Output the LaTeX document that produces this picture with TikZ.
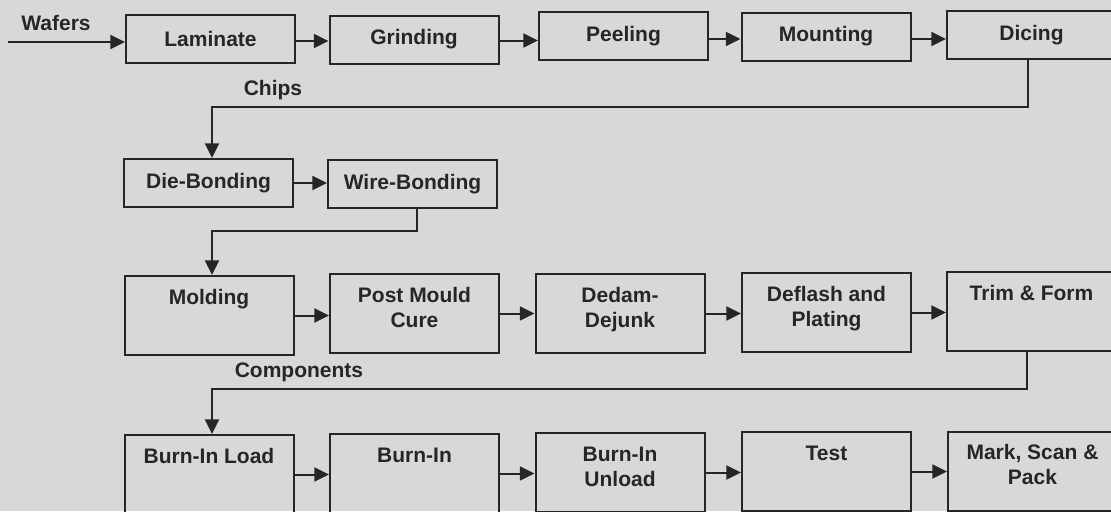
\documentclass[tikz,border=0pt]{standalone}
\usepackage{fontspec}
\setmainfont{Liberation Sans}
\usetikzlibrary{arrows.meta,calc}
\definecolor{bg}{RGB}{216,216,214}
\definecolor{ink}{RGB}{38,38,38}
\newcommand\tstrut{\rule{0pt}{11.6pt}}
\begin{document}
\begin{tikzpicture}[x=0.75pt,y=-0.75pt,
  txt/.style={font=\bfseries\fontsize{15.75}{18.75}\selectfont, text=ink, align=center, inner sep=0pt},
  box/.style={txt, draw=ink, line width=1.5pt, rectangle, minimum width=126.75pt},
  low/.style={box, minimum height=36pt},
  tall/.style={box, minimum height=59.25pt},
  toptxt/.style={txt, anchor=north},
  flow/.style={draw=ink, line width=1.5pt, -{Triangle[length=11pt,width=10.5pt]}},
  wire/.style={draw=ink, line width=1.5pt}]
\fill[bg] (0,0) rectangle (1111,511);
\useasboundingbox (0,0) rectangle (1111,511);

% Row 1
\node[low] (lam)   at (210.5,39)  {Laminate};
\node[low] (grind) at (414,39.5)  {Grinding};
\node[low] (peel)  at (623.5,36)  {Peeling};
\node[low] (mount) at (826,36.5)  {Mounting};
\node[low] (dice)  at (1031.5,35) {Dicing};
\node[txt] (wafers) at (56,23) {Wafers};
\coordinate (win) at (8,42);
\draw[flow] (win) -- (win -| lam.west);
\draw[flow] ($(lam.east)+(0,2)$) -- ($(lam.east -| grind.west)+(0,2)$);
\draw[flow] ($(grind.east)+(0,1)$) -- ($(grind.east -| peel.west)+(0,1)$);
\draw[flow] ($(peel.east)+(0,3)$) -- ($(peel.east -| mount.west)+(0,3)$);
\draw[flow] ($(mount.east)+(0,2.5)$) -- ($(mount.east -| dice.west)+(0,2.5)$);

% Row 2
\node[low] (die)  at (208.5,183) {Die-Bonding};
\node[low] (wire) at (412.5,184) {Wire-Bonding};
\node[txt] (chips) at (273,90) {Chips};
\draw[flow] (die.east) -- (die.east -| wire.west);
\coordinate (c1) at (1028,107);
\coordinate (c2) at (212,107);
\draw[flow] (c1 |- dice.south) -- (c1) -- (c2) -- (c2 |- die.north);

% Row 3
\node[tall] (mold)  at (209,315.5)   {};
\node[tall] (cure)  at (414.5,313.5) {};
\node[tall] (dedam) at (620,313.5)   {};
\node[tall] (defl)  at (826.5,312.5) {};
\node[tall] (trim)  at (1031.5,311.5) {};
\node[toptxt] (tmold)  at ($(mold.north)+(0,14)$)  {\tstrut Molding};
\node[toptxt] (tcure)  at ($(cure.north)+(0,13.5)$)  {\tstrut Post Mould\\Cure};
\node[toptxt] (tdedam) at ($(dedam.north)+(0,13.5)$) {\tstrut Dedam-\\Dejunk};
\node[toptxt] (tdefl)  at ($(defl.north)+(0,13.5)$)  {\tstrut Deflash and\\Plating};
\node[toptxt] (ttrim)  at ($(trim.north)+(0,13.5)$)  {\tstrut Trim \& Form};
\coordinate (w1) at (417,231);
\coordinate (w2) at (212,231);
\draw[flow] (w1 |- wire.south) -- (w1) -- (w2) -- (w2 |- mold.north);
\draw[flow] (mold.east) -- (mold.east -| cure.west);
\draw[flow] (cure.east) -- (cure.east -| dedam.west);
\draw[flow] (dedam.east) -- (dedam.east -| defl.west);
\draw[flow] (defl.east) -- (defl.east -| trim.west);

% Row 4
\node[tall] (bil)  at (209,474.5)    {};
\node[tall] (bi)   at (414.5,473.5)  {};
\node[tall] (biu)  at (620,472.5)    {};
\node[tall] (test) at (826.5,471.5)  {};
\node[tall] (msp)  at (1032.5,471.5) {};
\node[toptxt] (tbil)  at ($(bil.north)+(0,14)$)   {\tstrut Burn-In Load};
\node[toptxt] (tbi)   at ($(bi.north)+(0,14)$)    {\tstrut Burn-In};
\node[toptxt] (tbiu)  at ($(biu.north)+(0,13.5)$) {\tstrut Burn-In\\Unload};
\node[toptxt] (ttest) at ($(test.north)+(0,14)$)  {\tstrut Test};
\node[toptxt] (tmsp)  at ($(msp.north)+(0,13)$)   {\tstrut Mark, Scan \&\\Pack};
\node[txt] (comp) at (299,372) {Components};
\coordinate (t1) at (1027,389);
\coordinate (t2) at (212,389);
\draw[flow] (t1 |- trim.south) -- (t1) -- (t2) -- (t2 |- bil.north);
\draw[flow] (bil.east) -- (bil.east -| bi.west);
\draw[flow] (bi.east) -- (bi.east -| biu.west);
\draw[flow] (biu.east) -- (biu.east -| test.west);
\draw[flow] (test.east) -- (test.east -| msp.west);
\end{tikzpicture}
\end{document}
